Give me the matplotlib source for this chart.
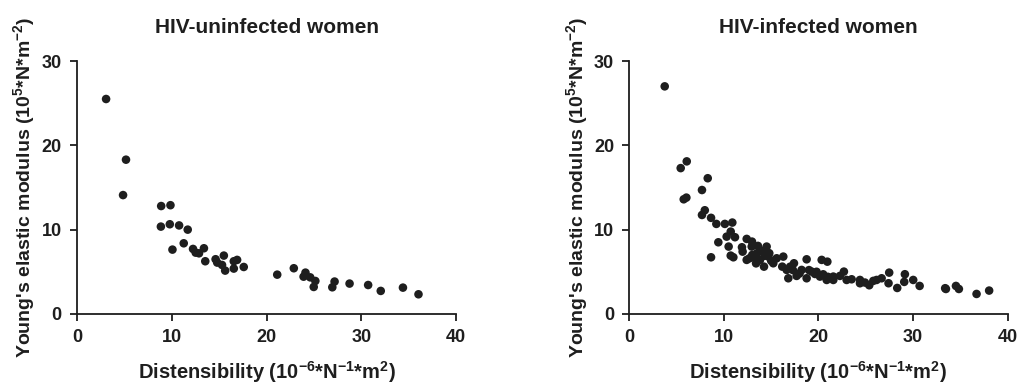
import matplotlib
matplotlib.use("Agg")
import matplotlib.pyplot as plt

# HIV-uninfected women: distensibility vs Young's elastic modulus
unin_x = [3.07, 5.17, 4.86, 8.88, 9.86, 8.85, 9.79, 10.77, 11.68, 10.07,
          11.26, 12.24, 12.52, 12.87, 13.39, 13.53, 14.62, 14.79, 15.49, 15.3,
          15.63, 16.54, 16.89, 16.54, 17.59, 21.12, 22.87, 24.1, 23.9, 24.6,
          25.14, 24.97, 26.93, 27.17, 28.75, 30.71, 32.04, 34.38, 36.02]
unin_y = [25.5, 18.3, 14.1, 12.8, 12.9, 10.36, 10.64, 10.5, 10.0, 7.63,
          8.38, 7.71, 7.27, 7.19, 7.79, 6.25, 6.49, 6.09, 6.92, 5.81,
          5.14, 6.25, 6.41, 5.38, 5.57, 4.66, 5.42, 4.9, 4.42, 4.34,
          3.91, 3.2, 3.16, 3.84, 3.6, 3.43, 2.73, 3.12, 2.33]

# HIV-infected women
inf_x = [3.74, 5.43, 6.07, 5.75, 6.03, 8.29, 7.68, 7.98, 7.68, 8.64,
         9.2, 10.1, 10.89, 10.72, 11.17, 10.29, 9.41, 10.5, 8.64, 10.72,
         11.0, 12.41, 12.97, 11.91, 12.94, 13.6, 14.52, 11.98, 12.41, 13.11,
         13.82, 14.24, 14.52, 14.7, 15.22, 15.58, 16.28, 16.17, 16.64, 17.41,
         16.81, 17.69, 18.22, 18.75, 18.75, 19.28, 19.63, 20.16, 20.34, 20.94,
         20.87, 21.57, 21.57, 22.27, 22.69, 22.98, 23.51, 24.39, 24.39, 24.92,
         25.37, 25.8, 26.15, 26.68, 27.48, 27.41, 28.33, 29.14, 29.07, 30.02,
         30.7, 33.4, 33.48, 34.54, 34.85, 36.72, 38.05,
         13.5, 14.0, 14.3, 13.0, 12.7, 14.8, 15.0, 13.4, 17.0, 18.0,
         19.0, 20.5, 21.0, 19.8, 17.3]
inf_y = [27.0, 17.3, 18.1, 13.6, 13.8, 16.1, 14.7, 12.3, 11.74, 11.4,
         10.68, 10.68, 10.84, 9.77, 9.1, 9.17, 8.5, 7.99, 6.72, 6.92,
         6.72, 8.9, 8.58, 7.91, 7.99, 8.07, 7.99, 7.39, 6.41, 6.72,
         6.41, 5.61, 7.39, 6.8, 6.01, 6.6, 6.8, 5.61, 5.22, 6.01,
         4.23, 4.51, 5.22, 6.48, 4.23, 5.02, 4.74, 4.43, 6.41, 6.2,
         4.03, 4.43, 4.03, 4.51, 5.02, 4.03, 4.11, 4.03, 3.64, 3.72,
         3.4, 3.92, 4.03, 4.23, 4.9, 3.64, 3.08, 4.71, 3.8, 4.03,
         3.32, 3.05, 2.96, 3.32, 2.96, 2.37, 2.77,
         7.2, 7.5, 6.9, 7.0, 6.6, 7.2, 6.3, 6.0, 5.6, 4.8,
         5.2, 4.7, 4.4, 5.0, 5.2]

titles = ["HIV-uninfected women", "HIV-infected women"]
xticks = [0, 10, 20, 30, 40]
yticks = [0, 10, 20, 30]

plt.rcParams['font.family'] = ['Liberation Sans', 'DejaVu Sans']
plt.rcParams['font.weight'] = 'bold'
plt.rcParams['mathtext.default'] = 'regular'
ink = '#1e1e1e'

fig = plt.figure(figsize=(10.25, 3.89), dpi=100)
ax1 = fig.add_axes([0.0751, 0.193, 0.370, 0.650])
ax2 = fig.add_axes([0.614, 0.193, 0.369, 0.650])

for ax, xs, ys, t in [(ax1, unin_x, unin_y, titles[0]), (ax2, inf_x, inf_y, titles[1])]:
    ax.scatter(xs, ys, s=38, color=ink, edgecolors='none', clip_on=False)
    ax.set_xlim(0, 40)
    ax.set_ylim(0, 30)
    ax.set_xticks(xticks)
    ax.set_yticks(yticks)
    for s in ['top', 'right']:
        ax.spines[s].set_visible(False)
    for s in ['left', 'bottom']:
        ax.spines[s].set_linewidth(1.3)
        ax.spines[s].set_color(ink)
    ax.tick_params(direction='out', length=5, width=1.3, color=ink,
                   labelsize=13, labelcolor=ink, pad=6)
    for lab in ax.get_xticklabels() + ax.get_yticklabels():
        lab.set_fontweight('bold')
    ax.set_title(t, fontsize=15, fontweight='bold', color=ink, pad=20)
    ax.set_xlabel("Distensibility (10$^{-6}$*N$^{-1}$*m$^{2}$)", fontsize=14.5,
                  fontweight='bold', color=ink, labelpad=9)
    ax.set_ylabel("Young's elastic modulus (10$^{5}$*N*m$^{-2}$)", fontsize=14,
                  fontweight='bold', color=ink, labelpad=3)

fig.savefig("out.png", dpi=100)
